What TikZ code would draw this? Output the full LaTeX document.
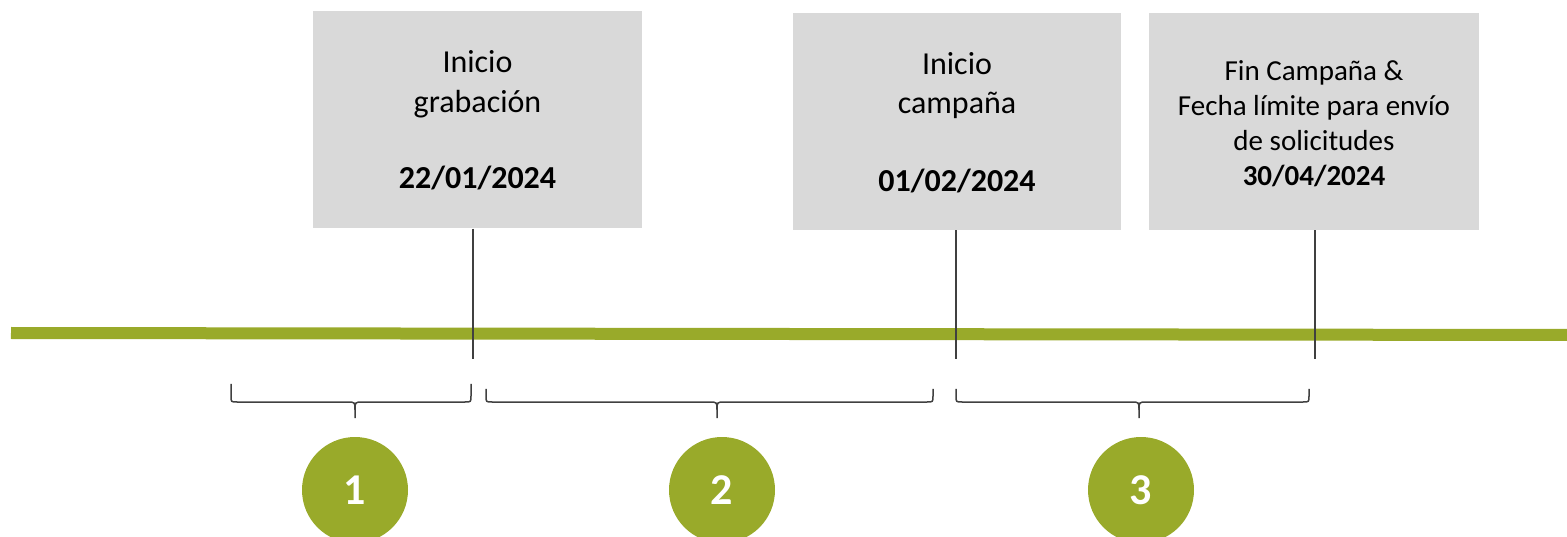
\documentclass[tikz,border=0pt]{standalone}
\usepackage{fontspec}
\setmainfont{Carlito}
\definecolor{olive}{RGB}{153,170,42}
\definecolor{boxgray}{RGB}{217,217,217}
\definecolor{linegray}{RGB}{64,64,64}
\tikzset{
  datebox/.style={fill=boxgray, draw=none, minimum width=329pt, minimum height=217pt, inner sep=0pt},
  txt/.style={anchor=base, inner sep=0pt, font=\fontsize{32}{38}\selectfont, text=black},
  smalltxt/.style={anchor=base, inner sep=0pt, font=\fontsize{29}{34}\selectfont, text=black},
  stepcircle/.style={circle, fill=olive, draw=none, minimum size=106pt, inner sep=0pt, text=white, font=\fontsize{44}{50}\selectfont\bfseries},
  tick/.style={draw=linegray, line width=1.2pt},
  bracket/.style={draw=linegray, line width=1.5pt}
}
\newcommand{\mybrace}[4]{% x1, xm, x2, ytop
  \draw[bracket] (#1,#4) -- (#1,396) .. controls (#1,402) .. (#1+6,402) -- (#2-8,402) .. controls (#2,402) .. (#2,410) -- (#2,418);
  \draw[bracket] (#2,410) .. controls (#2,402) .. (#2+8,402) -- (#3-6,402) .. controls (#3,402) .. (#3,396) -- (#3,#4);
}
\begin{document}
\begin{tikzpicture}[x=1pt,y=-1pt]
\useasboundingbox (0,0) rectangle (1567,537);
\clip (0,0) rectangle (1567,537);
% boxes
\node[datebox] (b1) at (477.5,120) {};
\node[datebox, minimum width=328pt] (b2) at (957,121.5) {};
\node[datebox, minimum width=330pt] (b3) at (1314,121.5) {};
% texts
\node[txt] (b1a) at (477.5,73) {Inicio};
\node[txt] (b1b) at (477.5,113) {grabación};
\node[txt] (b1c) at (477.5,189) {\bfseries 22/01/2024};
\node[txt] (b2a) at (957,75) {Inicio};
\node[txt] (b2b) at (957,114) {campaña};
\node[txt] (b2c) at (957,192) {\bfseries 01/02/2024};
\node[smalltxt] (b3a) at (1314,81) {Fin Campaña \&};
\node[smalltxt] (b3b) at (1314,116) {Fecha límite para envío};
\node[smalltxt] (b3c) at (1314,151) {de solicitudes};
\node[smalltxt] (b3d) at (1314,186) {\bfseries 30/04/2024};
% timeline
\coordinate (la) at (11,333);
\coordinate (lb) at (1567,335);
\draw[olive, line width=12pt] (la) -- (lb);
% ticks
\coordinate (t1) at (473,359);
\coordinate (t2) at (956,359);
\coordinate (t3) at (1315,359);
\draw[tick] (b1.south -| t1) -- (t1);
\draw[tick] (b2.south -| t2) -- (t2);
\draw[tick] (b3.south -| t3) -- (t3);
% braces
\mybrace{231}{355}{471}{384}
\mybrace{486}{717}{933}{389}
\mybrace{956}{1139}{1309}{389}
% circles
\node[stepcircle] (c1) at (355,490) {1};
\node[stepcircle] (c2) at (722,490) {2};
\node[stepcircle] (c3) at (1141,490) {3};
\end{tikzpicture}
\end{document}
